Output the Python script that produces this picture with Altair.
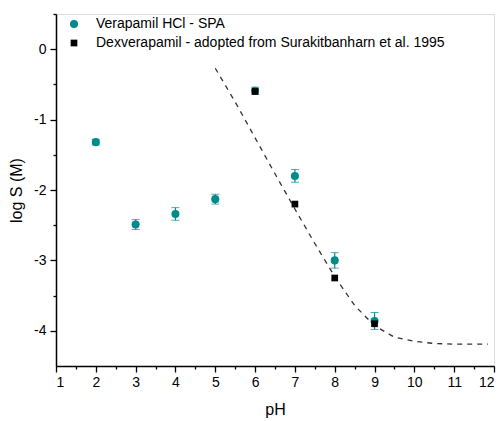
import altair as alt
import pandas as pd

# Verapamil HCl - SPA (teal circles with error bars)
spa_ph = [2, 3, 4, 5, 6, 7, 8, 9]
spa_logs = [-1.32, -2.49, -2.34, -2.13, -0.59, -1.80, -3.00, -3.86]
spa_err = [0.04, 0.07, 0.09, 0.07, 0.05, 0.09, 0.11, 0.12]

# Dexverapamil - literature (black squares)
dex_ph = [6, 7, 8, 9]
dex_logs = [-0.60, -2.20, -3.25, -3.90]

# Dashed fitted curve
curve_ph = [5.0, 5.5, 6.0, 6.5, 7.0, 7.5, 8.0, 8.5, 9.0, 9.5, 10.0, 10.5, 11.0, 11.5, 11.85]
curve_logs = [-0.27, -0.75, -1.26, -1.77, -2.27, -2.76, -3.23, -3.64, -3.93, -4.09, -4.15, -4.18, -4.19, -4.19, -4.19]

series_names = ["Verapamil HCl - SPA", "Dexverapamil - adopted from Surakitbanharn et al. 1995"]
x_major = [1, 2, 3, 4, 5, 6, 7, 8, 9, 10, 11, 12]
x_minor = [1.5, 2.5, 3.5, 4.5, 5.5, 6.5, 7.5, 8.5, 9.5, 10.5, 11.5]
y_major = [-4, -3, -2, -1, 0]
y_minor = [-3.5, -2.5, -1.5, -0.5, 0.5]

TEAL = "#008b8b"
FONT = "Liberation Sans"

pts = pd.DataFrame(
    {"ph": spa_ph + dex_ph,
     "logs": spa_logs + dex_logs,
     "series": [series_names[0]] * len(spa_ph) + [series_names[1]] * len(dex_ph)}
)
err = pd.DataFrame({"ph": spa_ph,
                    "lo": [v - e for v, e in zip(spa_logs, spa_err)],
                    "hi": [v + e for v, e in zip(spa_logs, spa_err)]})
curve = pd.DataFrame({"ph": curve_ph, "logs": curve_logs})

xscale = alt.Scale(domain=[1, 12], nice=False, zero=False)
yscale = alt.Scale(domain=[-4.5, 0.5], nice=False, zero=False)

x_axis = alt.Axis(values=x_major, title="pH", orient="bottom", grid=False, tickSize=6,
                  labelFontSize=14, titleFontSize=16, labelFont=FONT, titleFont=FONT,
                  titleFontWeight="normal", labelColor="black", titleColor="black",
                  domainColor="black", tickColor="black", domainWidth=1.5, tickWidth=1.3,
                  labelPadding=3, titlePadding=12, labelExpr="toString(datum.value)")
y_axis = alt.Axis(values=y_major, title="log S (M)", orient="left", grid=False, tickSize=6,
                  labelFontSize=14, titleFontSize=16, labelFont=FONT, titleFont=FONT,
                  titleFontWeight="normal", labelColor="black", titleColor="black",
                  domainColor="black", tickColor="black", domainWidth=1.5, tickWidth=1.3,
                  labelPadding=4, titlePadding=9, labelExpr="toString(datum.value)")
x_minor_axis = alt.Axis(values=x_minor, title=None, orient="bottom", grid=False, tickSize=3,
                        labels=False, domain=False, tickColor="black", tickWidth=1.3)
y_minor_axis = alt.Axis(values=y_minor, title=None, orient="left", grid=False, tickSize=3,
                        labels=False, domain=False, tickColor="black", tickWidth=1.3)

line = alt.Chart(curve).mark_line(color="#333333", strokeDash=[5, 5], strokeWidth=1.3).encode(
    x=alt.X("ph:Q", scale=xscale, axis=x_axis),
    y=alt.Y("logs:Q", scale=yscale, axis=y_axis),
)

minor = alt.Chart(curve).mark_point(opacity=0).encode(
    x=alt.X("ph:Q", scale=xscale, axis=x_minor_axis),
    y=alt.Y("logs:Q", scale=yscale, axis=y_minor_axis),
)

bars = alt.Chart(err).mark_errorbar(ticks={"size": 8, "color": TEAL, "strokeWidth": 1.2},
                                    rule={"strokeWidth": 1.2}, color=TEAL).encode(
    x=alt.X("ph:Q", scale=xscale, axis=None),
    y=alt.Y("lo:Q", scale=yscale, axis=None),
    y2="hi:Q",
)

points = alt.Chart(pts).mark_point(filled=True, opacity=1).encode(
    x=alt.X("ph:Q", scale=xscale, axis=None),
    y=alt.Y("logs:Q", scale=yscale, axis=None),
    color=alt.Color("series:N", scale=alt.Scale(domain=series_names, range=[TEAL, "black"]),
                    legend=alt.Legend(title=None, orient="none", legendX=11, legendY=3,
                                      labelFontSize=14, labelFont=FONT, labelColor="black",
                                      symbolSize=60, rowPadding=5, labelOffset=15,
                                      labelLimit=500)),
    shape=alt.Shape("series:N", scale=alt.Scale(domain=series_names, range=["circle", "square"])),
    size=alt.Size("series:N", scale=alt.Scale(domain=series_names, range=[65, 45]), legend=None),
)

chart = alt.layer(minor, line, bars, points).resolve_axis(x="independent", y="independent").properties(
    width=438, height=352,
    padding={"left": 56, "top": 14, "right": 7, "bottom": 55},
    autosize=alt.AutoSizeParams(type="none"),
).configure_view(stroke=None).configure(background="white")

chart.save("out.html", embed_options={"renderer": "svg", "actions": False})
